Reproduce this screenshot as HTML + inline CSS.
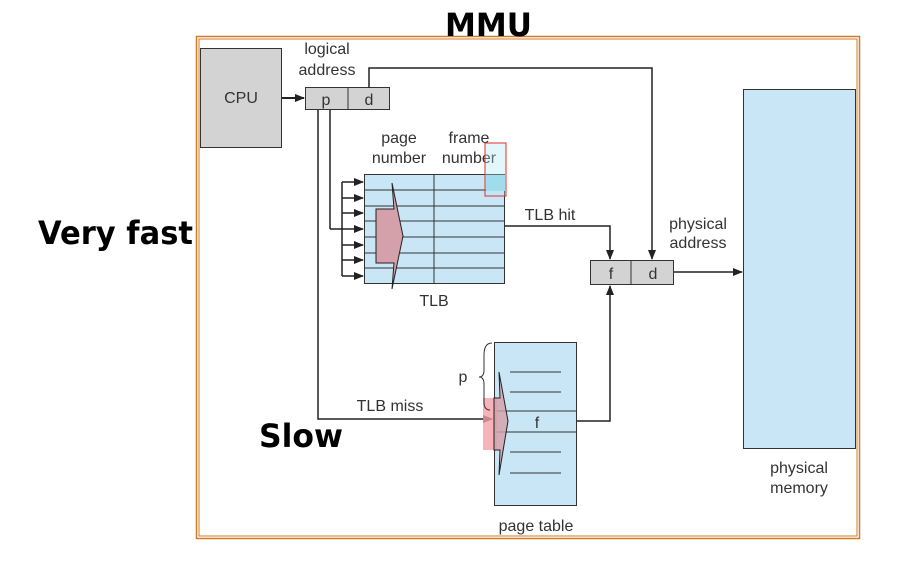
<!DOCTYPE html>
<html><head><meta charset="utf-8"><style>
html,body{margin:0;padding:0;background:#fff;}
svg{display:block;}
.t{font-family:"Liberation Sans",Arial,sans-serif;font-size:16px;fill:#333;}
.b{font-family:"DejaVu Sans","Liberation Sans",sans-serif;font-weight:bold;font-size:32px;fill:#000;}
</style></head><body>
<svg width="898" height="566" viewBox="0 0 898 566" xmlns="http://www.w3.org/2000/svg">
<defs>
<marker id="a" markerWidth="10" markerHeight="8" refX="9" refY="4" orient="auto" markerUnits="userSpaceOnUse">
<path d="M0,0 L10,4 L0,8 Z" fill="#222"/></marker>
</defs>
<!-- outer border -->
<rect x="196.5" y="36.5" width="663" height="502" fill="none" stroke="#d07a2a" stroke-width="1.5"/>
<rect x="199" y="39" width="658" height="497" fill="none" stroke="#d07a2a" stroke-width="1"/>
<text class="b" x="445" y="36" textLength="87" lengthAdjust="spacingAndGlyphs">MMU</text>
<text class="b" x="38" y="244" textLength="155" lengthAdjust="spacingAndGlyphs">Very fast</text>
<text class="b" x="259" y="447" textLength="84" lengthAdjust="spacingAndGlyphs">Slow</text>

<!-- CPU -->
<rect x="200.5" y="48.5" width="81" height="99" fill="#d3d3d3" stroke="#333"/>
<text class="t" x="241" y="103" text-anchor="middle">CPU</text>
<line x1="282" y1="98" x2="304" y2="98" stroke="#222" stroke-width="2" marker-end="url(#a)"/>
<text class="t" x="327" y="54" text-anchor="middle">logical</text>
<text class="t" x="327" y="75" text-anchor="middle">address</text>
<rect x="305.5" y="87.5" width="84" height="22" fill="#d3d3d3" stroke="#333"/>
<line x1="348" y1="88" x2="348" y2="110" stroke="#333"/>
<text class="t" x="326" y="105" text-anchor="middle">p</text>
<text class="t" x="369" y="105" text-anchor="middle">d</text>
<!-- d line to physical address -->
<polyline points="369,88 369,68 652,68 652,259" fill="none" stroke="#222" stroke-width="1.5" marker-end="url(#a)"/>

<!-- TLB -->
<text class="t" x="399" y="143" text-anchor="middle">page</text>
<text class="t" x="399" y="163" text-anchor="middle">number</text>
<text class="t" x="469" y="143" text-anchor="middle">frame</text>
<text class="t" x="469" y="163" text-anchor="middle">number</text>
<rect x="364.5" y="174.5" width="140" height="109" fill="#c8e6f6" stroke="#333"/>
<g stroke="#333" stroke-width="1">
<line x1="364" y1="190" x2="505" y2="190"/><line x1="364" y1="206" x2="505" y2="206"/>
<line x1="364" y1="221" x2="505" y2="221"/><line x1="364" y1="237" x2="505" y2="237"/>
<line x1="364" y1="253" x2="505" y2="253"/><line x1="364" y1="268" x2="505" y2="268"/>
<line x1="434" y1="174" x2="434" y2="284"/>
</g>
<polygon points="376,209 394,209 392,183 403,236 392,289 394,263 376,263" fill="#d4a0aa" stroke="#222" stroke-width="1"/>
<rect x="485" y="143" width="21" height="53" fill="#b0e8f0" fill-opacity="0.35" stroke="#e03030" stroke-width="1"/>
<rect x="486" y="175" width="19" height="16" fill="#9fdcec"/>
<text class="t" x="434" y="306" text-anchor="middle">TLB</text>
<!-- fan arrows -->
<g stroke="#222" stroke-width="1.5" fill="none">
<line x1="342" y1="182" x2="342" y2="276"/>
<line x1="342" y1="182" x2="363" y2="182" marker-end="url(#a)"/>
<line x1="342" y1="198" x2="363" y2="198" marker-end="url(#a)"/>
<line x1="342" y1="213" x2="363" y2="213" marker-end="url(#a)"/>
<line x1="330" y1="229" x2="363" y2="229" marker-end="url(#a)"/>
<line x1="342" y1="245" x2="363" y2="245" marker-end="url(#a)"/>
<line x1="342" y1="260" x2="363" y2="260" marker-end="url(#a)"/>
<line x1="342" y1="276" x2="363" y2="276" marker-end="url(#a)"/>
<polyline points="330,110 330,229"/>
<polyline points="318,110 318,419 492,419" marker-end="url(#a)"/>
<polyline points="505,226 610,226 610,259" marker-end="url(#a)"/>
<polyline points="577,421 610,421 610,286" marker-end="url(#a)"/>
<line x1="674" y1="272" x2="742" y2="272" marker-end="url(#a)"/>
</g>
<text class="t" x="550" y="220" text-anchor="middle">TLB hit</text>
<text class="t" x="390" y="411" text-anchor="middle">TLB miss</text>

<!-- f d box -->
<rect x="590.5" y="260.5" width="83" height="24" fill="#d3d3d3" stroke="#333"/>
<line x1="631" y1="260" x2="631" y2="285" stroke="#333"/>
<text class="t" x="611" y="279" text-anchor="middle">f</text>
<text class="t" x="653" y="279" text-anchor="middle">d</text>
<text class="t" x="698" y="229" text-anchor="middle">physical</text>
<text class="t" x="698" y="248" text-anchor="middle">address</text>

<!-- physical memory -->
<rect x="743.5" y="89.5" width="112" height="359" fill="#c8e6f6" stroke="#333"/>
<text class="t" x="799" y="473" text-anchor="middle">physical</text>
<text class="t" x="799" y="493" text-anchor="middle">memory</text>

<!-- page table -->
<rect x="494.5" y="342.5" width="82" height="163" fill="#c8e6f6" stroke="#333"/>
<g stroke="#333">
<line x1="510" y1="372" x2="561" y2="372"/><line x1="510" y1="392" x2="561" y2="392"/>
<line x1="494" y1="411" x2="577" y2="411"/><line x1="494" y1="432" x2="577" y2="432"/>
<line x1="510" y1="452" x2="561" y2="452"/><line x1="510" y1="473" x2="561" y2="473"/>
</g>
<text class="t" x="537" y="428" text-anchor="middle">f</text>
<rect x="483" y="398" width="14" height="52" fill="#f5a0a8" fill-opacity="0.8"/>
<polygon points="494,398 500,398 499,372 508,421 499,475 500,450 494,450" fill="#d4a0aa" fill-opacity="0.8" stroke="#222" stroke-width="1"/>
<path d="M492,343 Q484,343 484,355 L484,370 Q484,377 479,377 Q484,377 484,384 L484,402 Q484,410 490,410" fill="none" stroke="#333"/>
<text class="t" x="463" y="382" text-anchor="middle">p</text>
<text class="t" x="536" y="531" text-anchor="middle">page table</text>
</svg>
</body></html>
